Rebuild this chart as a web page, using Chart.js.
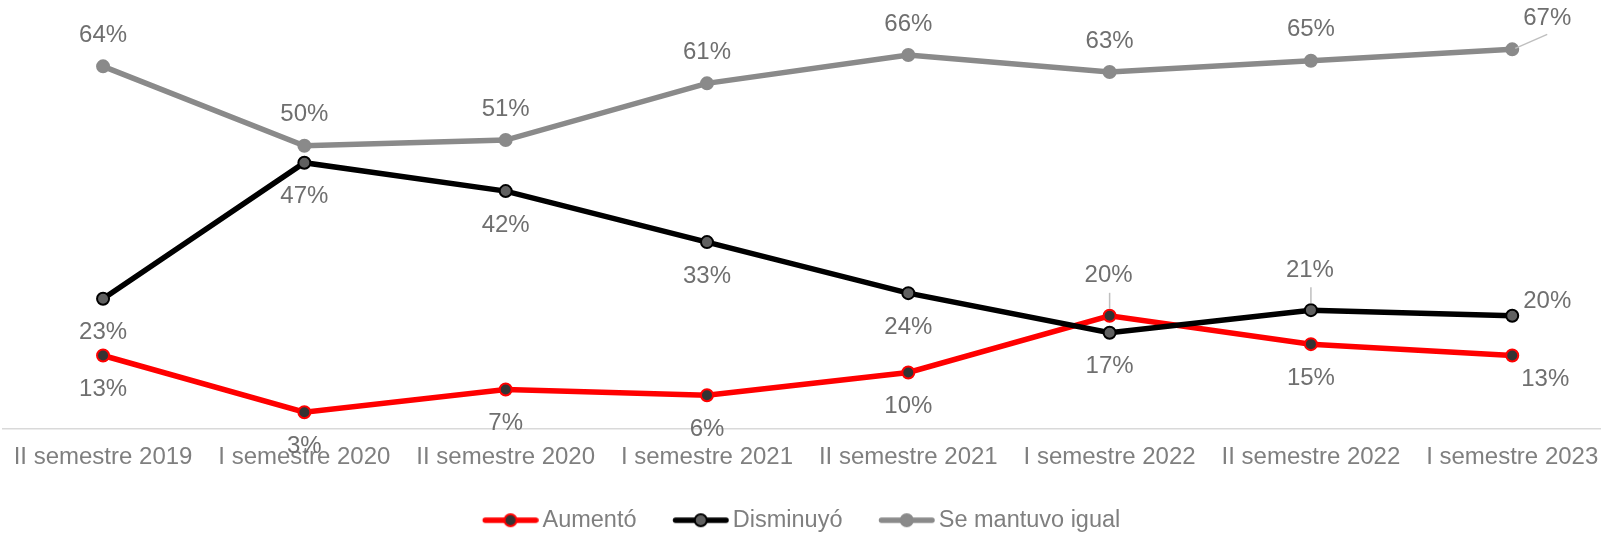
<!DOCTYPE html>
<html>
<head>
<meta charset="utf-8">
<script src="https://cdn.jsdelivr.net/npm/chart.js@4/dist/chart.umd.min.js"></script>
<style>
  html, body { margin: 0; padding: 0; background: #fff; }
  #wrap { width: 1601px; height: 534px; position: relative; }
</style>
</head>
<body>
<div id="wrap"><canvas id="percepcion"></canvas></div>
<script>
const periodos = ['II semestre 2019', 'I semestre 2020', 'II semestre 2020', 'I semestre 2021',
  'II semestre 2021', 'I semestre 2022', 'II semestre 2022', 'I semestre 2023']
const aumento = [13, 3, 7, 6, 10, 20, 15, 13]
const disminuyo = [23, 47, 42, 33, 24, 17, 21, 20]
const igual = [64, 50, 51, 61, 66, 63, 65, 67]

// where each value label sits relative to its point
const posAumento = ['below', 'below', 'below', 'below', 'below', 'leader', 'below', 'belowRight']
const posDisminuyo = ['below', 'below', 'below', 'below', 'below', 'below', 'leader', 'right']
const posIgual = ['above', 'above', 'above', 'above', 'above', 'above', 'above', 'leaderRight']

const FONT = "'Liberation Sans', Arial, sans-serif"

const toPoints = (arr) => arr.map((v, i) => ({x: i, y: v}))

// little line + marker picture for the legend
const legendIcon = (line, fill, border) => {
  const c = document.createElement('canvas')
  c.width = 64
  c.height = 18
  const g = c.getContext('2d')
  g.strokeStyle = line
  g.lineWidth = 5.5
  g.lineCap = 'round'
  g.beginPath()
  g.moveTo(10.5, 9)
  g.lineTo(61, 9)
  g.stroke()
  g.beginPath()
  g.arc(35.75, 9, 6, 0, Math.PI * 2)
  g.fillStyle = fill
  g.fill()
  g.lineWidth = 2
  g.strokeStyle = border
  g.stroke()
  return c
}

const offsets = {
  above: {dx: 0, dy: -31},
  below: {dx: 0, dy: 34},
  right: {dx: 35, dy: -14},
  belowRight: {dx: 33, dy: 24},
  leader: {dx: -1, dy: -40, line: [0, -23, 0, -7]},
  leaderRight: {dx: 35, dy: -31, line: [3, -1, 35, -15]}
}

const valueLabels = {
  id: 'valueLabels',
  afterDatasetsDraw(chart) {
    const ctx = chart.ctx
    const places = [posAumento, posDisminuyo, posIgual]
    ctx.save()
    ctx.font = '24px ' + FONT
    ctx.textAlign = 'center'
    ctx.textBaseline = 'middle'
    chart.data.datasets.forEach((ds, i) => {
      const meta = chart.getDatasetMeta(i)
      meta.data.forEach((pt, j) => {
        const o = offsets[places[i][j]]
        if (o.line) {
          ctx.strokeStyle = '#bfbfbf'
          ctx.lineWidth = 1.5
          ctx.beginPath()
          ctx.moveTo(pt.x + o.line[0], pt.y + o.line[1])
          ctx.lineTo(pt.x + o.line[2], pt.y + o.line[3])
          ctx.stroke()
        }
        ctx.fillStyle = '#6f6f6f'
        ctx.fillText(ds.data[j].y + '%', pt.x + o.dx, pt.y + o.dy)
      })
    })
    ctx.restore()
  }
}

const ctx = document.querySelector('#percepcion')
const chart = new Chart(ctx, {
  type: 'line',
  data: {
    datasets: [
      {
        label: 'Aumentó',
        data: toPoints(aumento),
        borderColor: '#ff0000',
        borderWidth: 5.5,
        pointRadius: 6,
        pointBorderWidth: 2,
        pointBackgroundColor: '#333333',
        pointBorderColor: '#ff0000',
        order: 3,
        icon: legendIcon('#ff0000', '#333333', '#ff0000')
      },
      {
        label: 'Disminuyó',
        data: toPoints(disminuyo),
        borderColor: '#000000',
        borderWidth: 5.5,
        pointRadius: 6,
        pointBorderWidth: 2,
        pointBackgroundColor: '#606060',
        pointBorderColor: '#000000',
        order: 2,
        icon: legendIcon('#000000', '#606060', '#000000')
      },
      {
        label: 'Se mantuvo igual',
        data: toPoints(igual),
        borderColor: '#8a8a8a',
        borderWidth: 5.5,
        pointRadius: 6,
        pointBorderWidth: 2,
        pointBackgroundColor: '#8a8a8a',
        pointBorderColor: '#8a8a8a',
        order: 1,
        icon: legendIcon('#8a8a8a', '#8a8a8a', '#8a8a8a')
      }
    ]
  },
  options: {
    responsive: true,
    maintainAspectRatio: false,
    animation: false,
    events: [],
    layout: {autoPadding: false, padding: {top: 4, left: 3, right: 1, bottom: -8}},
    scales: {
      x: {
        type: 'linear',
        min: -0.497,
        max: 7.436,
        grid: {display: false, drawTicks: true, tickLength: 14},
        border: {color: '#d9d9d9', width: 1.5},
        ticks: {
          stepSize: 1,
          includeBounds: false,
          autoSkip: false,
          maxRotation: 0,
          padding: 0,
          color: '#7f7f7f',
          font: {family: FONT, size: 24},
          callback: (v) => Number.isInteger(v) ? periodos[v] : ''
        }
      },
      y: {display: false, min: 0, max: 75}
    },
    plugins: {
      tooltip: {enabled: false},
      legend: {
        position: 'bottom',
        labels: {
          usePointStyle: true,
          pointStyleWidth: 48,
          padding: 36.5,
          color: '#7f7f7f',
          font: {family: FONT, size: 23.5},
          sort: (a, b) => a.datasetIndex - b.datasetIndex,
          generateLabels: (chart) => chart.data.datasets.map((ds, i) => ({
            text: ds.label,
            pointStyle: ds.icon,
            fontColor: '#7f7f7f',
            datasetIndex: i,
            lineWidth: 0
          }))
        }
      }
    }
  },
  plugins: [valueLabels]
})
</script>
</body>
</html>
